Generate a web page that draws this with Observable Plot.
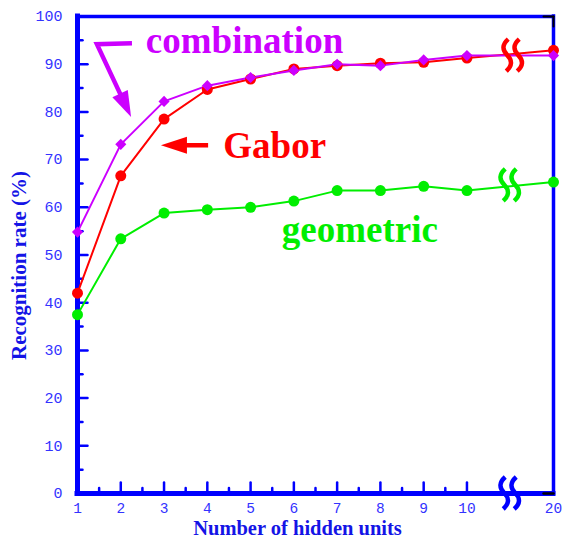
<!DOCTYPE html>
<html><head><meta charset="utf-8">
<script src="https://cdn.jsdelivr.net/npm/d3@7"></script>
<script src="https://cdn.jsdelivr.net/npm/@observablehq/plot@0.6"></script>
<style>body{margin:0;background:#fff}</style>
</head><body><div id="chart"></div>
<script>
// ---- data ----
const hiddenUnits = [1, 2, 3, 4, 5, 6, 7, 8, 9, 10, 20];
const combination = [54.8, 73.2, 82.2, 85.5, 87.2, 88.7, 90.0, 89.7, 90.9, 91.8, 91.8];
const gabor       = [42.0, 66.6, 78.5, 84.7, 86.9, 89.0, 89.7, 90.2, 90.4, 91.3, 92.9];
const geometric   = [37.5, 53.4, 58.8, 59.5, 60.0, 61.3, 63.5, 63.5, 64.4, 63.5, 65.3];
const seriesNames  = ["geometric", "Gabor", "combination"];
const seriesColors = ["#00ee00", "#ff0000", "#cc00ff"];
const yTicks = [0, 10, 20, 30, 40, 50, 60, 70, 80, 90, 100];
const yMinorTicks = [5, 15, 25, 35, 45, 55, 65, 75, 85, 95];
const xMinorTicks = [1.5, 2.5, 3.5, 4.5, 5.5, 6.5, 7.5, 8.5, 9.5];
// label anchor positions (data coordinates)
const labelX = [5.72, 4.37, 2.58];
const labelY = [55.3, 72.9, 94.9];
// annotation arrows (data coordinates), last point is the tip
const arrowPaths = [
  [[2.27, 94.3], [1.46, 94.1], [2.25, 78.8]],
  [[4.03, 72.9], [2.94, 72.9]]
];
const arrowColors = ["#cc00ff", "#ff0000"];
// axis-break symbols
const breakX = 11;
const breakY = [0, 91.8, 64.6];
const breakColors = ["#0000ff", "#ff0000", "#00ee00"];

// broken axis: 20 drawn right after the break
const lastRegular = 10, brokenPos = 12;
const pos = u => (u <= lastRegular ? u : brokenPos);

const valuesBySeries = [geometric, gabor, combination];
const rows = [];
seriesNames.forEach((s, k) => hiddenUnits.forEach((u, i) =>
  rows.push({series: s, unit: u, pos: pos(u), value: valuesBySeries[k][i]})));
const colorOf = Object.fromEntries(seriesNames.map((s, k) => [s, seriesColors[k]]));

const BLUE = "#0000ff";
const tickShape = {draw(ctx, l) { ctx.moveTo(0, 0); ctx.lineTo(0, -l); }};

function arrowsMark(index, scales) {
  const g = d3.create("svg:g");
  arrowPaths.forEach((pts, k) => {
    const color = arrowColors[k];
    const P = pts.map(([x, y]) => [scales.x(x), scales.y(y)]);
    const [tx, ty] = P[P.length - 1], [px, py] = P[P.length - 2];
    const a = Math.atan2(ty - py, tx - px);
    const L = 26, W = 8.5;
    const bx = tx - L * Math.cos(a), by = ty - L * Math.sin(a);
    const shaft = P.slice(0, -1).concat([[bx + 2 * Math.cos(a), by + 2 * Math.sin(a)]]);
    g.append("path").attr("d", d3.line()(shaft)).attr("fill", "none")
      .attr("stroke", color).attr("stroke-width", 4.5).attr("stroke-linejoin", "miter");
    g.append("path")
      .attr("d", `M${tx},${ty}L${bx - W * Math.sin(a)},${by + W * Math.cos(a)}L${bx + W * Math.sin(a)},${by - W * Math.cos(a)}Z`)
      .attr("fill", color);
  });
  return g.node();
}

function breaksMark(index, scales) {
  const g = d3.create("svg:g");
  breakY.forEach((v, k) => {
    const cx = scales.x(breakX) + (k === 1 ? 3 : 0), cy = scales.y(v);
    const h = 16;
    [-5.5, 5.5].forEach(o => {
      const x = cx + o;
      g.append("path")
        .attr("d", `M${x + 1},${cy - h}Q${x - 8},${cy - h / 2} ${x},${cy}Q${x + 8},${cy + h / 2} ${x - 1},${cy + h}`)
        .attr("fill", "none").attr("stroke", breakColors[k])
        .attr("stroke-width", 4.5).attr("stroke-linecap", "butt");
    });
  });
  return g.node();
}

const chart = Plot.plot({
  width: 562, height: 539,
  marginLeft: 77, marginRight: 9, marginTop: 16, marginBottom: 46,
  x: {domain: [1, brokenPos], axis: null},
  y: {domain: [0, 100], axis: null},
  marks: [
    // frame
    Plot.ruleX([1], {stroke: BLUE, strokeWidth: 5, strokeLinecap: "square"}),
    Plot.ruleY([0], {stroke: BLUE, strokeWidth: 5, strokeLinecap: "square"}),
    Plot.ruleY([100], {stroke: BLUE, strokeWidth: 3.5, strokeLinecap: "square"}),
    Plot.ruleX([brokenPos], {stroke: BLUE, strokeWidth: 3.5, strokeLinecap: "square"}),
    // small black corner marks
    Plot.vector([100], {x: brokenPos, y: d => d, length: 10, rotate: -90, anchor: "start", shape: tickShape, stroke: "black", strokeWidth: 2}),
    Plot.vector([100], {x: brokenPos, y: d => d, length: 10, rotate: 180, anchor: "start", shape: tickShape, stroke: "black", strokeWidth: 2}),
    Plot.vector([0], {x: brokenPos, y: d => d, length: 10, rotate: -90, anchor: "start", shape: tickShape, stroke: "black", strokeWidth: 2.5}),
    // y ticks
    Plot.vector(yTicks, {x: 1, y: d => d, length: 10, rotate: 90, anchor: "start", shape: tickShape, stroke: BLUE, strokeWidth: 2.5}),
    Plot.vector(yMinorTicks, {x: 1, y: d => d, length: 5, rotate: 90, anchor: "start", shape: tickShape, stroke: BLUE, strokeWidth: 2.5}),
    // x ticks
    Plot.vector(hiddenUnits.filter(u => u > 1 && u <= lastRegular), {x: d => d, y: 0, length: 11, anchor: "start", shape: tickShape, stroke: BLUE, strokeWidth: 2.5}),
    Plot.vector(xMinorTicks, {x: d => d, y: 0, length: 5.5, anchor: "start", shape: tickShape, stroke: BLUE, strokeWidth: 2.5}),
    // tick labels
    Plot.text(yTicks, {x: 1, y: d => d, text: d => String(d), textAnchor: "end", dx: -15,
      fontFamily: "Liberation Mono, monospace", fontSize: 15, fill: "#3333ff"}),
    Plot.text(hiddenUnits, {x: pos, y: 0, text: d => String(d), dy: 15,
      fontFamily: "Liberation Mono, monospace", fontSize: 14.5, fill: "#3333ff"}),
    // axis titles
    Plot.text(["Number of hidden units"], {frameAnchor: "bottom", textAnchor: "middle", lineAnchor: "middle", dx: -18, dy: 35,
      fontFamily: "Liberation Serif, serif", fontWeight: "bold", fontSize: 20.5, fill: "#1414e6"}),
    Plot.text(["Recognition rate (%)"], {frameAnchor: "left", textAnchor: "middle", lineAnchor: "middle", rotate: -90, dx: -58, dy: 10.5,
      fontFamily: "Liberation Serif, serif", fontWeight: "bold", fontSize: 21, fill: "#1414e6"}),
    // series
    ...seriesNames.map(s => Plot.line(rows.filter(r => r.series === s),
      {x: "pos", y: "value", stroke: colorOf[s], strokeWidth: 2})),
    Plot.dot(rows.filter(r => r.series === "geometric"), {x: "pos", y: "value", r: 5.5, fill: colorOf.geometric}),
    Plot.dot(rows.filter(r => r.series === "Gabor"), {x: "pos", y: "value", r: 5.5, fill: colorOf.Gabor}),
    Plot.dot(rows.filter(r => r.series === "combination"), {x: "pos", y: "value", r: 5, symbol: "diamond2", fill: colorOf.combination}),
    breaksMark,
    // series labels
    Plot.text(seriesNames, {x: (d, i) => labelX[i], y: (d, i) => labelY[i], text: d => d,
      textAnchor: "start", fill: (d, i) => seriesColors[i],
      fontFamily: "Liberation Serif, serif", fontWeight: "bold", fontSize: 37}),
    arrowsMark
  ]
});
document.getElementById("chart").append(chart);
</script>
</body></html>
